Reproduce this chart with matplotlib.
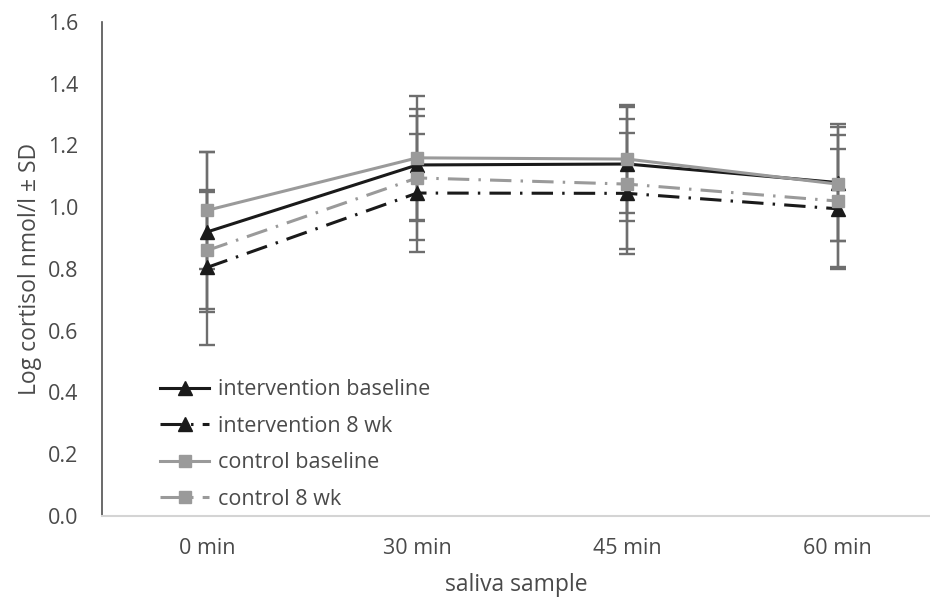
import numpy as np
import matplotlib.pyplot as plt

plt.rcParams['font.family'] = ['Open Sans', 'DejaVu Sans']

# data
samples = ["0 min", "30 min", "45 min", "60 min"]
int_base = [0.92, 1.137, 1.14, 1.08]
int_base_sd = [0.26, 0.18, 0.185, 0.19]
int_8wk = [0.805, 1.046, 1.045, 0.995]
int_8wk_sd = [0.25, 0.19, 0.195, 0.195]
ctl_base = [0.99, 1.16, 1.156, 1.075]
ctl_base_sd = [0.19, 0.20, 0.175, 0.185]
ctl_8wk = [0.86, 1.095, 1.075, 1.02]
ctl_8wk_sd = [0.19, 0.20, 0.21, 0.215]

BLACK = "#1a1a1a"
GREY = "#9a9a9a"
ERR = "#6e6e6e"
TXT = "#4a4a4a"
DASHDOT = (0, (7, 3, 0.8, 3))

fig = plt.figure(figsize=(9.3, 6), dpi=100)
ax = fig.add_axes([102/930, 84/600, 828/930, 494/600])
x = np.arange(len(samples))

series = [
    ("intervention baseline", int_base, int_base_sd, BLACK, "^", "-", 10),
    ("intervention 8 wk", int_8wk, int_8wk_sd, BLACK, "^", DASHDOT, 10),
    ("control baseline", ctl_base, ctl_base_sd, GREY, "s", "-", 8.5),
    ("control 8 wk", ctl_8wk, ctl_8wk_sd, GREY, "s", DASHDOT, 8.5),
]

# error bars first so lines and markers sit on top
for name, y, sd, col, mk, ls, ms in series:
    ax.errorbar(x, y, yerr=sd, fmt="none", ecolor=ERR, elinewidth=1.7,
                capsize=6, capthick=1.7, zorder=1)

for name, y, sd, col, mk, ls, ms in series:
    ax.plot(x, y, color=col, linestyle=ls, linewidth=2.2, marker=mk,
            markersize=ms, markerfacecolor=col, markeredgecolor=col,
            label=name, zorder=3)

ax.set_xlim(-0.5, 3.44)
ax.set_ylim(0, 1.6)
ax.set_yticks(np.arange(0, 1.61, 0.2))
ax.set_yticklabels([f"{v:.1f}" for v in np.arange(0, 1.61, 0.2)])
ax.set_xticks(x)
ax.set_xticklabels(samples)
ax.tick_params(axis="y", length=0, pad=17, labelsize=15.5, labelcolor=TXT)
ax.tick_params(axis="x", length=0, pad=16, labelsize=15.5, labelcolor=TXT)

for s in ["top", "right"]:
    ax.spines[s].set_visible(False)
ax.spines["left"].set_color("#505050")
ax.spines["left"].set_linewidth(1.2)
ax.spines["bottom"].set_color("#d4d4d4")
ax.spines["bottom"].set_linewidth(1.5)

ax.set_ylabel("Log cortisol nmol/l ± SD", fontsize=16.5, color=TXT, labelpad=4)
ax.set_xlabel("saliva sample", fontsize=16.5, color=TXT, labelpad=10)

leg = ax.legend(loc="lower left", bbox_to_anchor=(0.07, 0.013), frameon=False,
                fontsize=15.5, handlelength=2.3, handletextpad=0.4,
                labelspacing=0.72, borderpad=0, borderaxespad=0, numpoints=1)
for t in leg.get_texts():
    t.set_color(TXT)

fig.savefig("out.png", dpi=100)
